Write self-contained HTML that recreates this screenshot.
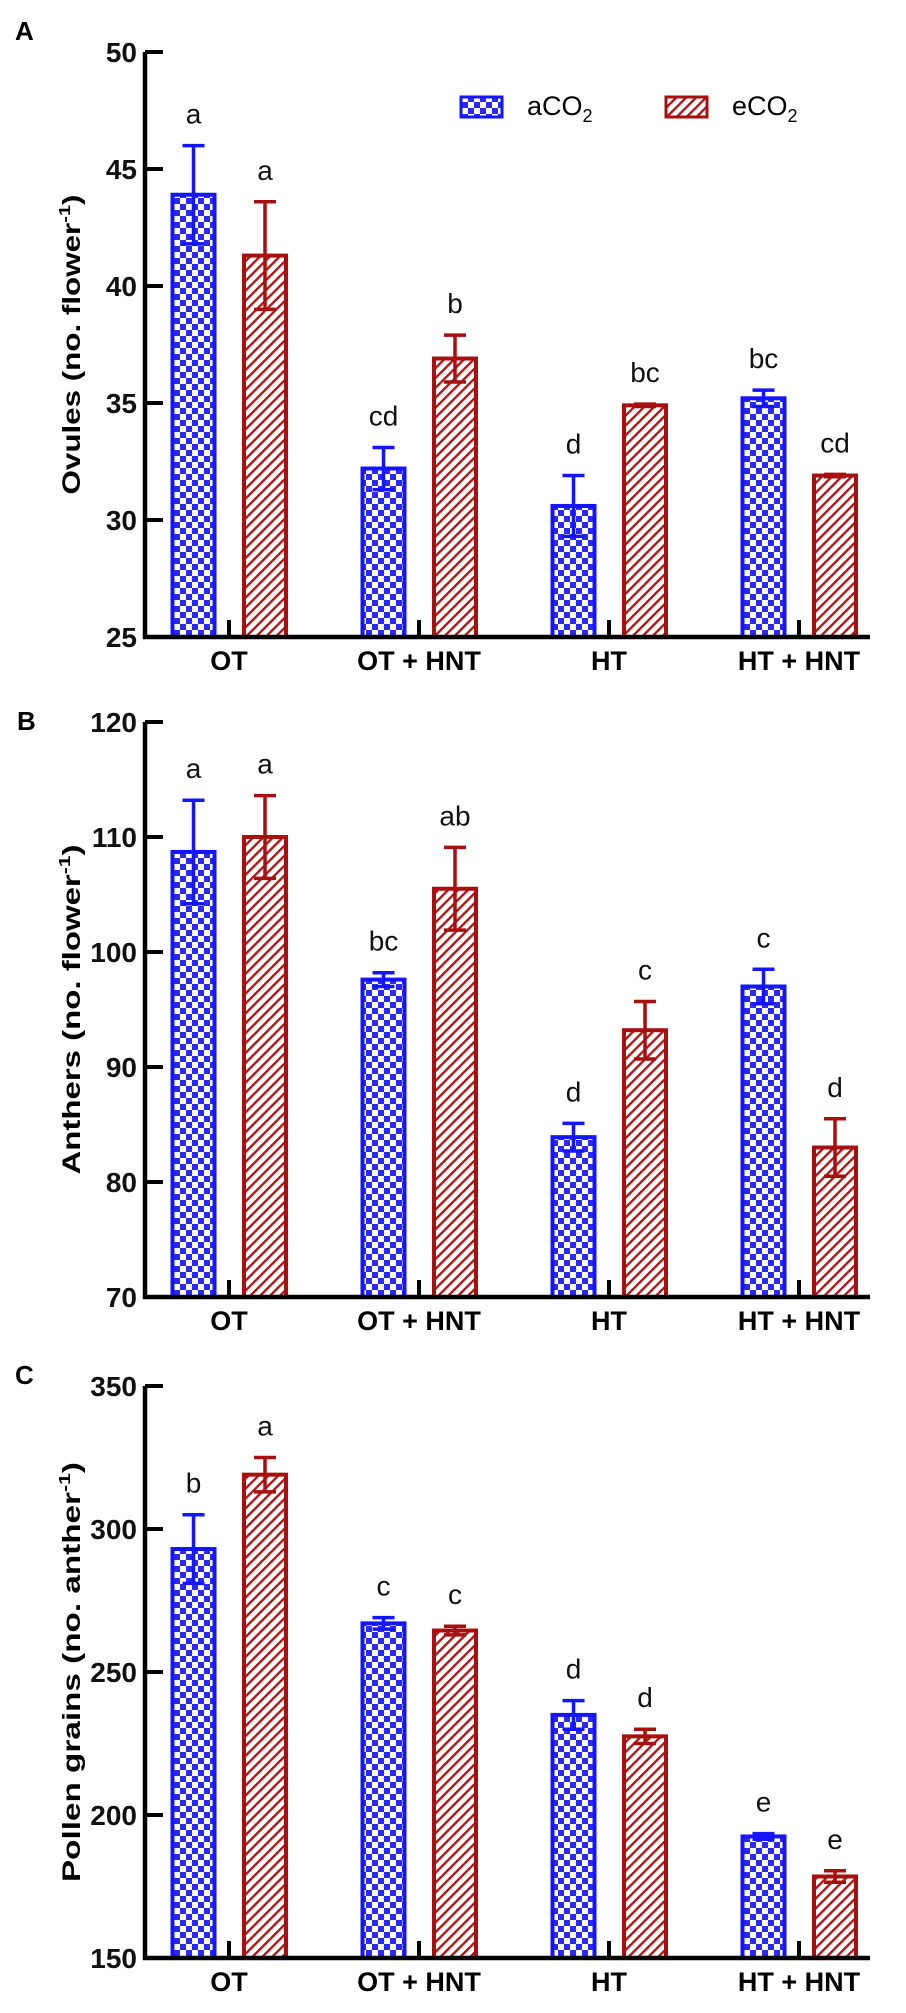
<!DOCTYPE html>
<html><head><meta charset="utf-8"><style>
html,body{margin:0;padding:0;background:#fff;}
svg{display:block;font-family:"Liberation Sans",Arial,sans-serif;}
</style></head><body>
<svg id="fig" width="906" height="2013" viewBox="0 0 906 2013" xmlns="http://www.w3.org/2000/svg">
<defs>
<pattern id="checker" width="12" height="12" patternUnits="userSpaceOnUse">
<rect width="12" height="12" fill="#ffffff"/>
<rect x="0" y="0" width="6" height="6" fill="#2a2aff"/>
<rect x="6" y="6" width="6" height="6" fill="#2a2aff"/>
</pattern>
<pattern id="hatch" width="7" height="7" patternUnits="userSpaceOnUse" patternTransform="rotate(45)">
<rect width="7" height="7" fill="#ffffff"/>
<rect x="0" y="0" width="2.4" height="7" fill="#b01818"/>
</pattern>
</defs>
<g id="root"></g>
</svg>
<script>
const categories = ["OT", "OT + HNT", "HT", "HT + HNT"];
const seriesNames = ["aCO2", "eCO2"];
const ovulesA = [43.9, 32.2, 30.6, 35.2];
const ovulesAErr = [2.1, 0.9, 1.3, 0.35];
const ovulesE = [41.3, 36.9, 34.9, 31.9];
const ovulesEErr = [2.3, 1.0, 0.05, 0.05];
const ovulesLetA = ["a", "cd", "d", "bc"];
const ovulesLetE = ["a", "b", "bc", "cd"];
const anthersA = [108.7, 97.6, 83.9, 97.0];
const anthersAErr = [4.5, 0.6, 1.2, 1.5];
const anthersE = [110.0, 105.5, 93.2, 83.0];
const anthersEErr = [3.6, 3.6, 2.5, 2.5];
const anthersLetA = ["a", "bc", "d", "c"];
const anthersLetE = ["a", "ab", "c", "d"];
const pollenA = [293, 267, 235, 192.5];
const pollenAErr = [12, 2, 5, 1];
const pollenE = [319, 264.5, 227.5, 178.5];
const pollenEErr = [6, 1.5, 2.5, 2];
const pollenLetA = ["b", "c", "d", "e"];
const pollenLetE = ["a", "c", "d", "e"];
const ticksA = [25, 30, 35, 40, 45, 50];
const ticksB = [70, 80, 90, 100, 110, 120];
const ticksC = [150, 200, 250, 300, 350];

const NS = "http://www.w3.org/2000/svg";
const root = document.getElementById("root");
function mk(tag, attrs, parent, text) {
  const e = document.createElementNS(NS, tag);
  for (const k in attrs) e.setAttribute(k, attrs[k]);
  if (text !== undefined) e.textContent = text;
  (parent || root).appendChild(e);
  return e;
}
const axisX = 145, axisRight = 870;
function xCenter(i) { return 229 + 190 * i; }

function panel(cfg) {
  const g = mk("g", {});
  
  
  const y = v => cfg.bottom - (v - cfg.min) / (cfg.max - cfg.min) * (cfg.bottom - cfg.top);
  const lt = mk("text", {x: cfg.letterX, y: cfg.letterY, "font-size": 26, "font-weight": "bold"}, g, cfg.letter);
  
  
  const series = [
    {vals: cfg.a, err: cfg.aErr, lets: cfg.aLet, fill: "url(#checker)", stroke: "#1414ff", off: -35.5},
    {vals: cfg.e, err: cfg.eErr, lets: cfg.eLet, fill: "url(#hatch)", stroke: "#a80f0f", off: 36}
  ];
  series.forEach((s, si) => {
    s.vals.forEach((v, i) => {
      const cx = xCenter(i) + s.off;
      const yt = y(v);
      const r = mk("rect", {x: cx - 21, y: yt, width: 42, height: cfg.bottom - yt, fill: s.fill, stroke: s.stroke, "stroke-width": 4}, g);
      
      
      const ytop = y(v + s.err[i]), ybot = y(v - s.err[i]);
      const eb = mk("path", {d: `M${cx},${ytop}V${ybot}M${cx-11},${ytop}H${cx+11}M${cx-11},${ybot}H${cx+11}`, stroke: s.stroke, "stroke-width": 3.5, fill: "none"}, g);
      
      
      const t = mk("text", {x: cx, y: ytop - 22, "font-size": 28, "text-anchor": "middle", fill: "#111"}, g, s.lets[i]);
      
      
    });
  });
  const ax = mk("path", {d: `M${axisX},${cfg.top}V${cfg.bottom}H${axisRight}`, stroke: "#000", "stroke-width": 4.5, fill: "none"}, g);
  
  
  cfg.ticks.forEach(tv => {
    const yy = y(tv);
    const tk = mk("line", {x1: axisX, x2: axisX + 18, y1: yy, y2: yy, stroke: "#000", "stroke-width": 4}, g);
    
    
    const tl = mk("text", {x: 137, y: yy + 10, "font-size": 28, "text-anchor": "end", "font-weight": "bold", fill: "#111"}, g, String(tv));
    
    
  });
  categories.forEach((c, i) => {
    const xx = xCenter(i);
    const tk = mk("line", {x1: xx, x2: xx, y1: cfg.bottom, y2: cfg.bottom - 17, stroke: "#000", "stroke-width": 4}, g);
    
    
    const cl = mk("text", {x: xx, y: cfg.bottom + 33, "font-size": 27, "font-weight": "bold", "text-anchor": "middle"}, g, c);
    
    
  });
  const mid = (cfg.top + cfg.bottom) / 2;
  const yt = mk("text", {x: 0, y: 0, transform: `translate(80,${mid}) rotate(-90)`, "font-size": 25, "font-weight": "bold", "text-anchor": "middle", textLength: cfg.titleLen, lengthAdjust: "spacingAndGlyphs"}, g);
  
  
  mk("tspan", {}, yt, cfg.title + " (no. " + cfg.unit);
  mk("tspan", {dy: -10, "font-size": 16}, yt, "-1");
  mk("tspan", {dy: 10}, yt, ")");
}

panel({name: "panel-a-ovules", letter: "A", letterX: 15, letterY: 40, top: 52, bottom: 637, min: 25, max: 50, ticks: ticksA, titleLen: 300,
  a: ovulesA, aErr: ovulesAErr, e: ovulesE, eErr: ovulesEErr, aLet: ovulesLetA, eLet: ovulesLetE, title: "Ovules", unit: "flower"});
panel({name: "panel-b-anthers", letter: "B", letterX: 17, letterY: 730, top: 722, bottom: 1297, min: 70, max: 120, ticks: ticksB, titleLen: 330,
  a: anthersA, aErr: anthersAErr, e: anthersE, eErr: anthersEErr, aLet: anthersLetA, eLet: anthersLetE, title: "Anthers", unit: "flower"});
panel({name: "panel-c-pollen", letter: "C", letterX: 15, letterY: 1384, top: 1386, bottom: 1958, min: 150, max: 350, ticks: ticksC, titleLen: 420,
  a: pollenA, aErr: pollenAErr, e: pollenE, eErr: pollenEErr, aLet: pollenLetA, eLet: pollenLetE, title: "Pollen grains", unit: "anther"});

const lg = mk("g", {});


const ls1 = mk("rect", {x: 461, y: 97, width: 41, height: 20, fill: "url(#checker)", stroke: "#1414ff", "stroke-width": 3}, lg);


const lt1 = mk("text", {x: 527, y: 115, "font-size": 27}, lg);


mk("tspan", {}, lt1, "aCO");
mk("tspan", {dy: 7, "font-size": 18}, lt1, "2");
const ls2 = mk("rect", {x: 666, y: 97, width: 41, height: 20, fill: "url(#hatch)", stroke: "#a80f0f", "stroke-width": 3}, lg);


const lt2 = mk("text", {x: 732, y: 115, "font-size": 27}, lg);


mk("tspan", {}, lt2, "eCO");
mk("tspan", {dy: 7, "font-size": 18}, lt2, "2");
</script>
</body></html>
